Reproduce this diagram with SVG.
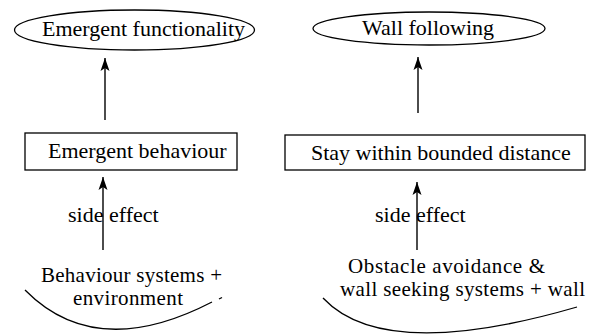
<svg xmlns="http://www.w3.org/2000/svg" width="593" height="334" viewBox="0 0 593 334">
<style>
text{font-family:'Liberation Serif','DejaVu Serif',serif;font-size:22px;fill:#000}
.small{font-size:21px}
.shape{fill:none;stroke:#000;stroke-width:1.3}
.conn{fill:none;stroke:#000;stroke-width:1.4}
</style>
<defs>
<marker id="arr" markerUnits="userSpaceOnUse" markerWidth="14" markerHeight="10" refX="13" refY="5" orient="auto">
<path d="M0,0.5 L13,5 L0,9.5 L3,5 z" fill="#000"/>
</marker>
</defs>
<rect width="593" height="334" fill="#fff"/>
<g id="node-emergent-functionality">
<ellipse class="shape" cx="134.5" cy="30" rx="120" ry="20"/>
<text x="42" y="36">Emergent functionality</text>
</g>
<g id="node-wall-following">
<ellipse class="shape" cx="429" cy="28.5" rx="116" ry="16.5"/>
<text x="362" y="35">Wall following</text>
</g>
<g id="node-emergent-behaviour">
<rect class="shape" x="25" y="133" width="212" height="37"/>
<text x="48" y="158">Emergent behaviour</text>
</g>
<g id="node-stay-within">
<rect class="shape" x="285" y="135" width="300" height="35"/>
<text x="311" y="160">Stay within bounded distance</text>
</g>
<g id="node-behaviour-systems">
<path class="shape" d="M25,290 Q96,362 212,302"/>
<path class="shape" d="M219,299 L222,297.5"/>
<text class="small" x="41" y="282" textLength="181">Behaviour systems +</text>
<text class="small" x="73" y="305" textLength="110">environment</text>
</g>
<g id="node-obstacle-avoidance">
<path class="shape" d="M323,298 Q384,363 577,307"/>
<text class="small" x="348" y="273" textLength="197">Obstacle avoidance &amp;</text>
<text class="small" x="340" y="296" textLength="245">wall seeking systems + wall</text>
</g>
<g id="connectors">
<line class="conn" x1="105" y1="120" x2="105" y2="58" marker-end="url(#arr)"/>
<line class="conn" x1="418" y1="113" x2="418" y2="57" marker-end="url(#arr)"/>
<line class="conn" x1="103" y1="250" x2="103" y2="177" marker-end="url(#arr)"/>
<text x="68" y="222">side effect</text>
<line class="conn" x1="417" y1="250" x2="417" y2="182" marker-end="url(#arr)"/>
<text x="375" y="222">side effect</text>
</g>
</svg>
